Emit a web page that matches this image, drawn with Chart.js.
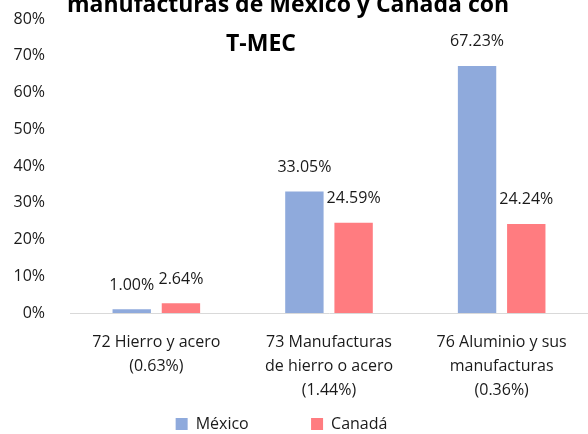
<!DOCTYPE html>
<html>
<head>
<meta charset="utf-8">
<script src="https://cdn.jsdelivr.net/npm/chart.js@4/dist/chart.umd.min.js"></script>
<style>
  body { margin: 0; background: #fff; }
  #wrap { width: 588px; height: 434px; }
</style>
</head>
<body>
<div id="wrap"><canvas id="chart" width="588" height="434"></canvas></div>
<script>
const categories = [
  ["72 Hierro y acero", "(0.63%)"],
  ["73 Manufacturas", "de hierro o acero", "(1.44%)"],
  ["76 Aluminio y sus", "manufacturas", "(0.36%)"]
];
const mexico = [1.00, 33.05, 67.23];
const canada = [2.64, 24.59, 24.24];
const titleLines = ["manufacturas de México y Canadá con", "T-MEC"];

const FONT = "'Open Sans', 'Liberation Sans', sans-serif";

// title overlaps the plot area in the original, so draw it by hand
const titlePlugin = {
  id: 'overTitle',
  afterDraw(chart) {
    const ctx = chart.ctx;
    ctx.save();
    ctx.fillStyle = '#000';
    ctx.font = 'bold 23px ' + FONT;
    ctx.textAlign = 'center';
    ctx.textBaseline = 'middle';
    ctx.fillText(titleLines[0], 288, 5);
    ctx.fillText(titleLines[1], 261, 44);
    ctx.restore();
  }
};

const valueLabels = {
  id: 'valueLabels',
  afterDatasetsDraw(chart) {
    const ctx = chart.ctx;
    ctx.save();
    ctx.fillStyle = '#1a1a1a';
    ctx.font = '16px ' + FONT;
    ctx.textAlign = 'center';
    ctx.textBaseline = 'middle';
    chart.data.datasets.forEach((ds, i) => {
      chart.getDatasetMeta(i).data.forEach((bar, j) => {
        ctx.fillText(ds.data[j].toFixed(2) + '%', bar.x, bar.y - 24);
      });
    });
    ctx.restore();
  }
};

let ctx = document.getElementById('chart');
let myChart = new Chart(ctx, {
  type: 'bar',
  data: {
    labels: categories,
    datasets: [
      { label: "México", backgroundColor: "#8FAADC", data: mexico },
      { label: "Canadá", backgroundColor: "#FF7C80", data: canada }
    ]
  },
  options: {
    responsive: false,
    animation: false,
    layout: { padding: { left: 0, right: 0, top: 0, bottom: -8 } },
    categoryPercentage: 0.57,
    barPercentage: 0.78,
    scales: {
      x: {
        grid: { display: false, drawTicks: false },
        border: { display: true, color: '#D9D9D9', width: 1 },
        ticks: { color: '#1a1a1a', font: { family: FONT, size: 16, lineHeight: 1.5 }, padding: 17, maxRotation: 0 },
        afterFit(scale) { scale.height = 103; }
      },
      y: {
        min: 0,
        max: 80,
        grid: { display: false, drawTicks: false },
        border: { display: false },
        ticks: {
          stepSize: 10,
          color: '#1a1a1a',
          font: { family: FONT, size: 16 },
          padding: 25,
          callback: v => v + '%'
        },
        afterFit(scale) {
          scale.width = 70;
          scale.paddingTop = 19;
          scale.paddingBottom = 10;
        }
      }
    },
    plugins: {
      legend: {
        position: 'bottom',
        labels: {
          boxWidth: 12,
          boxHeight: 12,
          padding: 0,
          color: '#1a1a1a',
          font: { family: FONT, size: 16 },
          generateLabels(chart) {
            const items = Chart.defaults.plugins.legend.labels.generateLabels(chart);
            // wide gap between the two entries, as in the original
            items[0].text = items[0].text + '               ';
            items[1].text = items[1].text + '      ';
            return items;
          }
        }
      },
      tooltip: { enabled: false }
    }
  },
  plugins: [titlePlugin, valueLabels]
});
</script>
</body>
</html>
